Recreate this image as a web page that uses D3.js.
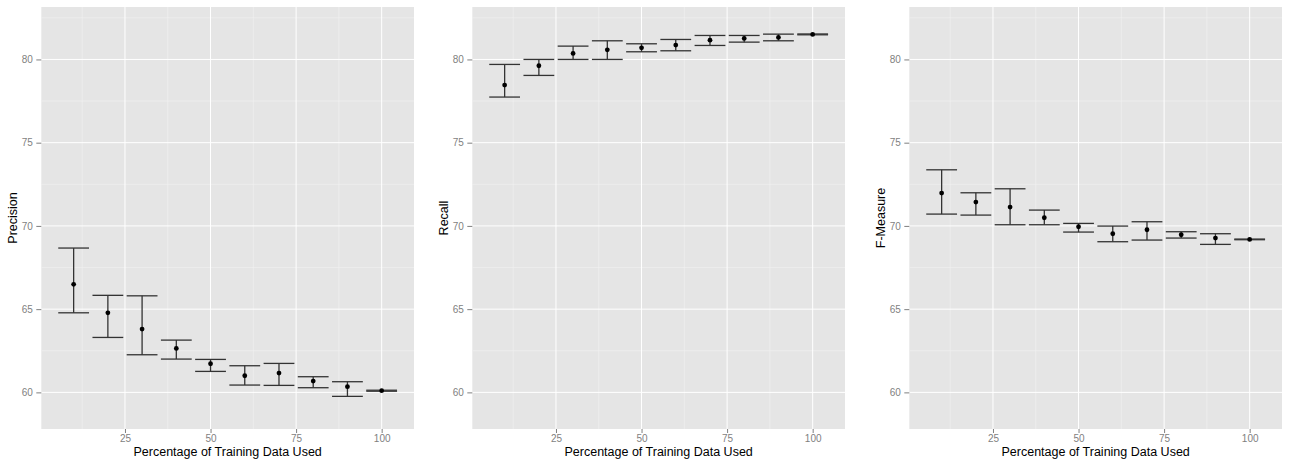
<!DOCTYPE html>
<html>
<head>
<meta charset="utf-8">
<script src="https://cdn.jsdelivr.net/npm/d3@7"></script>
<style>
  html, body { margin: 0; padding: 0; background: #ffffff; }
  svg { display: block; }
  text { font-family: "Liberation Sans", Arial, Helvetica, sans-serif; }
</style>
</head>
<body>
<svg id="chart" width="1290" height="463"></svg>
<script>
// ---- data ----
const xValues = [10, 20, 30, 40, 50, 60, 70, 80, 90, 100];

const precisionMean  = [66.49, 64.78, 63.80, 62.64, 61.72, 61.00, 61.16, 60.68, 60.34, 60.10];
const precisionLower = [64.78, 63.30, 62.26, 62.00, 61.26, 60.44, 60.42, 60.28, 59.76, 60.07];
const precisionUpper = [68.67, 65.83, 65.80, 63.14, 61.98, 61.60, 61.74, 60.94, 60.64, 60.13];

const recallMean  = [78.46, 79.62, 80.36, 80.58, 80.70, 80.86, 81.16, 81.26, 81.32, 81.50];
const recallLower = [77.74, 79.04, 80.00, 80.00, 80.46, 80.52, 80.84, 81.04, 81.12, 81.48];
const recallUpper = [79.70, 80.00, 80.80, 81.12, 80.94, 81.20, 81.44, 81.44, 81.52, 81.53];

const fMean  = [71.97, 71.43, 71.13, 70.49, 69.95, 69.53, 69.77, 69.47, 69.27, 69.19];
const fLower = [70.71, 70.65, 70.07, 70.07, 69.63, 69.05, 69.15, 69.27, 68.89, 69.17];
const fUpper = [73.37, 71.99, 72.23, 70.95, 70.15, 69.99, 70.25, 69.65, 69.53, 69.21];

const xTicks = [25, 50, 75, 100];
const xMinor = [12.5, 37.5, 62.5, 87.5];
const yTicks = [60, 65, 70, 75, 80];
const yMinor = [62.5, 67.5, 72.5, 77.5, 82.5];

const panelTitles = ["Precision", "Recall", "F-Measure"];
const xTitle = "Percentage of Training Data Used";

const panels = [
  { yTitle: panelTitles[0], mean: precisionMean, lo: precisionLower, hi: precisionUpper },
  { yTitle: panelTitles[1], mean: recallMean,    lo: recallLower,    hi: recallUpper },
  { yTitle: panelTitles[2], mean: fMean,         lo: fLower,         hi: fUpper }
];

// ---- layout ----
const plotLefts = [41.3, 472.3, 909.3];
const plotW = 372.7;
const plotTop = 7;
const plotBottom = 429;
const barHalf = 4.5;

const svg = d3.select("#chart");

panels.forEach((p, i) => {
  const left = plotLefts[i];
  const x = d3.scaleLinear().domain([0.55, 109.45]).range([left, left + plotW]);
  const y = d3.scaleLinear().domain([57.8, 83.15]).range([plotBottom, plotTop]);
  const g = svg.append("g");

  // panel background
  g.append("rect")
    .attr("x", left).attr("y", plotTop)
    .attr("width", plotW).attr("height", plotBottom - plotTop)
    .attr("fill", "#E5E5E5");

  // minor grid
  g.selectAll(".xminor").data(xMinor).enter().append("line")
    .attr("x1", d => x(d)).attr("x2", d => x(d))
    .attr("y1", plotTop).attr("y2", plotBottom)
    .attr("stroke", "#F2F2F2").attr("stroke-width", 0.6);
  g.selectAll(".yminor").data(yMinor).enter().append("line")
    .attr("x1", left).attr("x2", left + plotW)
    .attr("y1", d => y(d)).attr("y2", d => y(d))
    .attr("stroke", "#F2F2F2").attr("stroke-width", 0.6);

  // major grid
  g.selectAll(".xmajor").data(xTicks).enter().append("line")
    .attr("x1", d => x(d)).attr("x2", d => x(d))
    .attr("y1", plotTop).attr("y2", plotBottom)
    .attr("stroke", "#FFFFFF").attr("stroke-width", 1);
  g.selectAll(".ymajor").data(yTicks).enter().append("line")
    .attr("x1", left).attr("x2", left + plotW)
    .attr("y1", d => y(d)).attr("y2", d => y(d))
    .attr("stroke", "#FFFFFF").attr("stroke-width", 1);

  // axes
  const xAxis = d3.axisBottom(x).tickValues(xTicks).tickSize(4).tickPadding(2).tickFormat(d3.format("d"));
  const yAxis = d3.axisLeft(y).tickValues(yTicks).tickSize(5).tickPadding(3.5).tickFormat(d3.format("d"));

  const gx = g.append("g").attr("transform", `translate(0,${plotBottom})`).call(xAxis);
  const gy = g.append("g").attr("transform", `translate(${left},0)`).call(yAxis);
  [gx, gy].forEach(a => {
    a.select(".domain").remove();
    a.selectAll(".tick line").attr("stroke", "#7F7F7F");
    a.selectAll(".tick text").attr("fill", "#7F7F7F").style("font-size", "10px");
  });

  // axis titles
  g.append("text")
    .attr("x", left + plotW / 2).attr("y", 456)
    .attr("text-anchor", "middle")
    .style("font-size", "12.5px").attr("fill", "#000")
    .text(xTitle);
  g.append("text")
    .attr("transform", `translate(${left - 24},${(plotTop + plotBottom) / 2}) rotate(-90)`)
    .attr("text-anchor", "middle")
    .style("font-size", "12.5px").attr("fill", "#000")
    .text(p.yTitle);

  // error bars
  const rows = xValues.map((xv, k) => ({ x: xv, m: p.mean[k], lo: p.lo[k], hi: p.hi[k] }));
  const eb = g.selectAll(".eb").data(rows).enter().append("g");
  eb.append("line")
    .attr("x1", d => x(d.x)).attr("x2", d => x(d.x))
    .attr("y1", d => y(d.lo)).attr("y2", d => y(d.hi))
    .attr("stroke", "#333").attr("stroke-width", 1.3);
  eb.append("line")
    .attr("x1", d => x(d.x - barHalf)).attr("x2", d => x(d.x + barHalf))
    .attr("y1", d => y(d.hi)).attr("y2", d => y(d.hi))
    .attr("stroke", "#333").attr("stroke-width", 1.3);
  eb.append("line")
    .attr("x1", d => x(d.x - barHalf)).attr("x2", d => x(d.x + barHalf))
    .attr("y1", d => y(d.lo)).attr("y2", d => y(d.lo))
    .attr("stroke", "#333").attr("stroke-width", 1.3);

  // points
  g.selectAll(".pt").data(rows).enter().append("circle")
    .attr("cx", d => x(d.x)).attr("cy", d => y(d.m))
    .attr("r", 2.4).attr("fill", "#000");
});
</script>
</body>
</html>
